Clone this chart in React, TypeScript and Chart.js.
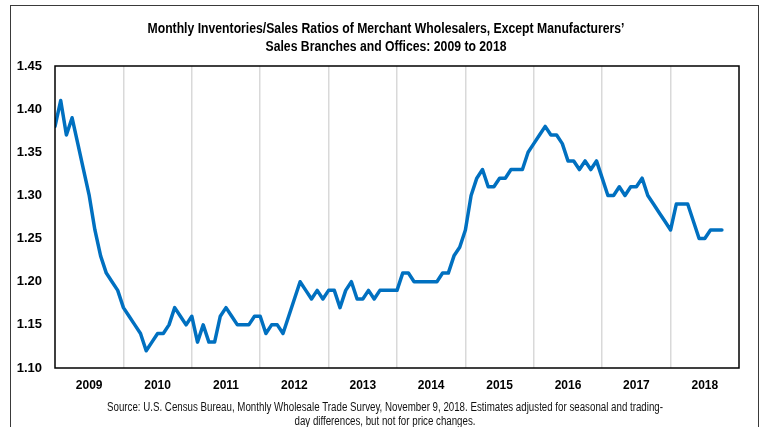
import React, { useEffect, useRef } from "react";
import { Chart, registerables } from "chart.js";

Chart.register(...registerables);

const TITLE_LINES = [
  "Monthly Inventories/Sales Ratios of Merchant Wholesalers, Except Manufacturers’",
  "Sales Branches and Offices: 2009 to 2018",
];
const SOURCE_LINES = [
  "Source: U.S. Census Bureau, Monthly Wholesale Trade Survey, November 9, 2018. Estimates adjusted for seasonal and trading-",
  "day differences, but not for price changes.",
];
const YEARS = ["2009", "2010", "2011", "2012", "2013", "2014", "2015", "2016", "2017", "2018"];
const Y_TICKS = [1.1, 1.15, 1.2, 1.25, 1.3, 1.35, 1.4, 1.45];

const r2009 = [1.38, 1.41, 1.37, 1.39, 1.36, 1.33, 1.30, 1.26, 1.23, 1.21, 1.20, 1.19];
const r2010 = [1.17, 1.16, 1.15, 1.14, 1.12, 1.13, 1.14, 1.14, 1.15, 1.17, 1.16, 1.15];
const r2011 = [1.16, 1.13, 1.15, 1.13, 1.13, 1.16, 1.17, 1.16, 1.15, 1.15, 1.15, 1.16];
const r2012 = [1.16, 1.14, 1.15, 1.15, 1.14, 1.16, 1.18, 1.20, 1.19, 1.18, 1.19, 1.18];
const r2013 = [1.19, 1.19, 1.17, 1.19, 1.20, 1.18, 1.18, 1.19, 1.18, 1.19, 1.19, 1.19];
const r2014 = [1.19, 1.21, 1.21, 1.20, 1.20, 1.20, 1.20, 1.20, 1.21, 1.21, 1.23, 1.24];
const r2015 = [1.26, 1.30, 1.32, 1.33, 1.31, 1.31, 1.32, 1.32, 1.33, 1.33, 1.33, 1.35];
const r2016 = [1.36, 1.37, 1.38, 1.37, 1.37, 1.36, 1.34, 1.34, 1.33, 1.34, 1.33, 1.34];
const r2017 = [1.32, 1.30, 1.30, 1.31, 1.30, 1.31, 1.31, 1.32, 1.30, 1.29, 1.28, 1.27];
const r2018 = [1.26, 1.29, 1.29, 1.29, 1.27, 1.25, 1.25, 1.26, 1.26, 1.26];

const RATIOS = [
  ...r2009, ...r2010, ...r2011, ...r2012, ...r2013,
  ...r2014, ...r2015, ...r2016, ...r2017, ...r2018,
];

const FONT = "'Liberation Sans', Arial, sans-serif";

function drawLines(c: CanvasRenderingContext2D, lines: string[], cx: number, ys: number[], targetW: number) {
  const w = c.measureText(lines[0]).width;
  const s = Math.min(1, targetW / w);
  lines.forEach((t, i) => {
    c.save();
    c.translate(cx, ys[i]);
    c.scale(s, 1);
    c.fillText(t, 0, 0);
    c.restore();
  });
}

export default function App() {
  const ref = useRef<HTMLCanvasElement | null>(null);

  useEffect(() => {
    document.body.style.margin = "0";
    const canvas = ref.current;
    if (!canvas) return;

    const decor = {
      id: "decor",
      beforeDraw(chart: any) {
        const c = chart.ctx;
        c.save();
        c.fillStyle = "#ffffff";
        c.fillRect(0, 0, chart.width, chart.height);
        c.restore();
      },
      afterDraw(chart: any) {
        const c = chart.ctx;
        const a = chart.chartArea;
        c.save();
        c.strokeStyle = "#000000";
        c.lineWidth = 1.5;
        c.strokeRect(a.left, a.top, a.right - a.left, a.bottom - a.top);
        c.strokeStyle = "#3a3a3a";
        c.lineWidth = 1;
        c.strokeRect(10.5, 5.5, 748, 460);
        c.fillStyle = "#000000";
        c.textAlign = "center";
        c.textBaseline = "middle";
        c.font = `bold 14px ${FONT}`;
        drawLines(c, TITLE_LINES, 386, [29, 47], 477);
        c.font = `12px ${FONT}`;
        c.fillStyle = "#111111";
        drawLines(c, SOURCE_LINES, 385, [408, 422], 556);
        c.restore();
      },
    };

    const chart = new Chart(canvas, {
      type: "line",
      data: {
        datasets: [
          {
            data: RATIOS.map((v, i) => ({ x: i, y: v })),
            borderColor: "#0070C0",
            borderWidth: 3.5,
            pointRadius: 0,
            tension: 0,
            borderJoinStyle: "round",
            borderCapStyle: "round",
            fill: false,
          },
        ],
      },
      options: {
        responsive: false,
        animation: false,
        devicePixelRatio: 1,
        layout: { padding: { left: 0, right: 23, top: 66, bottom: 0 } },
        plugins: {
          legend: { display: false },
          tooltip: { enabled: false },
          title: { display: false },
        },
        scales: {
          x: {
            type: "linear",
            min: 0,
            max: YEARS.length * 12,
            afterBuildTicks(scale: any) {
              const t = [];
              for (let v = 0; v <= YEARS.length * 12; v += 6) t.push({ value: v });
              scale.ticks = t;
            },
            afterFit(scale: any) {
              scale.height = 59;
            },
            border: { display: false },
            grid: {
              drawTicks: false,
              lineWidth: 1.5,
              color: (ctx: any) => {
                const v = ctx.tick ? ctx.tick.value : 0;
                return v % 12 === 0 && v > 0 && v < YEARS.length * 12 ? "#d9d9d9" : "rgba(0,0,0,0)";
              },
            },
            ticks: {
              autoSkip: false,
              maxRotation: 0,
              padding: 10,
              color: "#000000",
              font: { family: FONT, size: 12, weight: "bold" },
              callback: (v: any) => {
                const n = Number(v);
                return n % 12 === 6 ? YEARS[(n - 6) / 12] : "";
              },
            },
          },
          y: {
            min: 1.1,
            max: 1.45,
            afterBuildTicks(scale: any) {
              scale.ticks = Y_TICKS.map((v) => ({ value: v }));
            },
            afterFit(scale: any) {
              scale.width = 55;
            },
            border: { display: false },
            grid: { display: false, drawTicks: false },
            ticks: {
              padding: 13,
              color: "#000000",
              font: { family: FONT, size: 13, weight: "bold" },
              callback: (v: any) => Number(v).toFixed(2),
            },
          },
        },
      },
      plugins: [decor],
    } as any);

    return () => chart.destroy();
  }, []);

  return (
    <div style={{ position: "absolute", left: 0, top: 0, width: 762, height: 427 }}>
      <canvas ref={ref} width={762} height={427} style={{ width: 762, height: 427 }} />
    </div>
  );
}
